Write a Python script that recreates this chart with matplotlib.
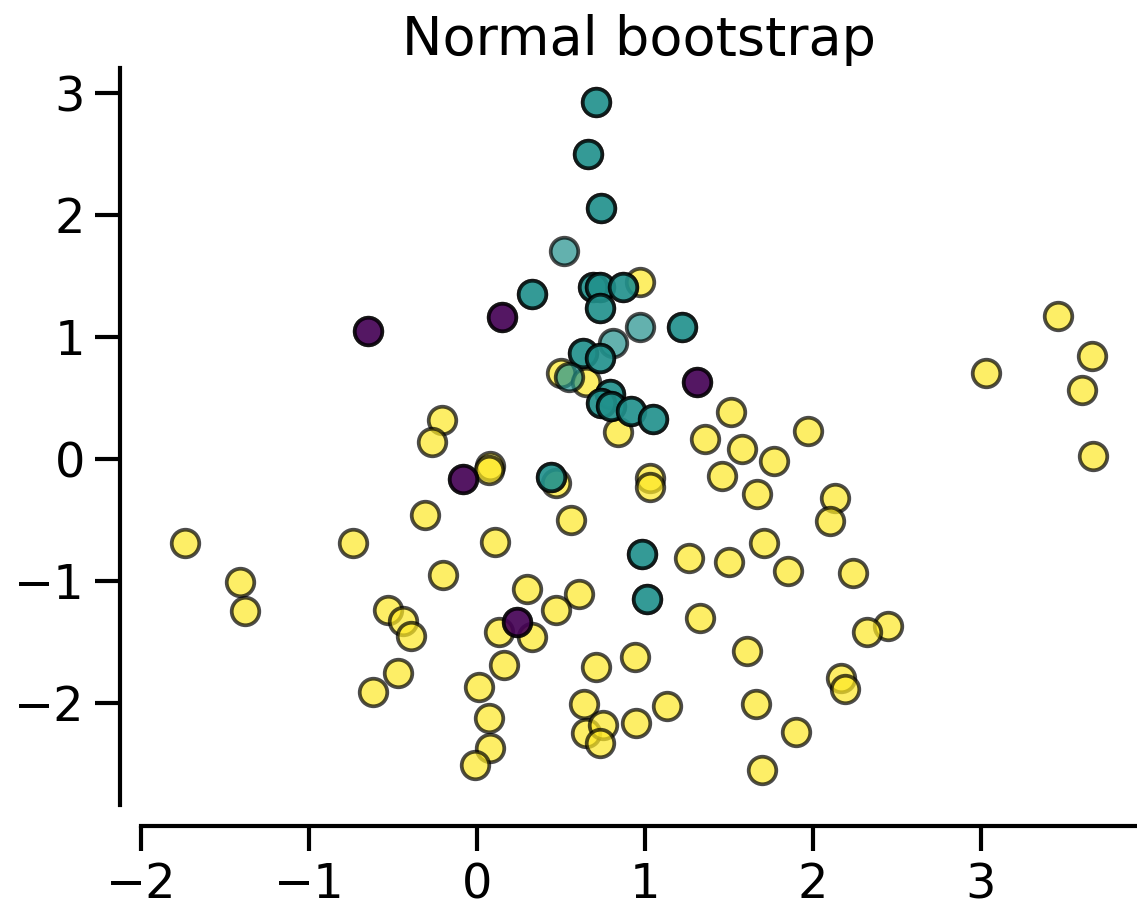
import numpy as np
import matplotlib
matplotlib.use("Agg")
import matplotlib.pyplot as plt

# class 0 (purple) points
purple_x = [-0.65, -0.65, 0.15, 0.15, 1.31, 1.31, -0.08, -0.08, 0.24, 0.24]
purple_y = [1.05, 1.05, 1.16, 1.16, 0.63, 0.63, -0.17, -0.17, -1.34, -1.34]

# class 1 (teal) points (duplicates = bootstrap repeats)
teal_x = [0.71, 0.71, 0.66, 0.66, 0.74, 0.74, 0.52, 0.33, 0.33, 0.69, 0.69,
          0.73, 0.73, 0.87, 0.87, 0.73, 0.73, 0.97, 1.22, 1.22, 0.81,
          0.63, 0.63, 0.73, 0.73, 0.55, 0.79, 0.79, 0.74, 0.74, 0.80, 0.80,
          0.92, 0.92, 1.05, 1.05, 0.44, 0.44, 0.98, 0.98, 1.01, 1.01]
teal_y = [2.93, 2.93, 2.50, 2.50, 2.06, 2.06, 1.70, 1.35, 1.35, 1.41, 1.41,
          1.41, 1.41, 1.41, 1.41, 1.24, 1.24, 1.08, 1.08, 1.08, 0.95,
          0.87, 0.87, 0.83, 0.83, 0.67, 0.53, 0.53, 0.46, 0.46, 0.43, 0.43,
          0.39, 0.39, 0.33, 0.33, -0.15, -0.15, -0.78, -0.78, -1.15, -1.15]

# class 2 (yellow) points
yellow_x = [0.97, 0.50, 0.65, 0.84, -0.21, -0.27, 0.08, 0.07, 0.47, -0.31,
            0.56, -1.74, -0.74, 0.11, -0.20, -1.41, -1.38, 0.30, 0.61, -0.53,
            -0.44, -0.39, 0.47, 0.13, 0.33, 0.16, 0.71, 0.94, -0.47, -0.62,
            0.01, 0.64, 0.07, 0.65, 0.75, 0.73, 0.95, 0.08, -0.01, 1.51,
            1.97, 1.36, 1.58, 1.77, 1.46, 1.03, 1.03, 1.67, 2.13, 2.10,
            1.71, 1.26, 1.50, 1.85, 2.24, 1.33, 2.45, 2.32, 1.61, 2.17,
            2.19, 1.66, 1.13, 1.90, 1.70, 3.46, 3.66, 3.03, 3.60, 3.67]
yellow_y = [1.45, 0.70, 0.63, 0.22, 0.32, 0.14, -0.06, -0.09, -0.20, -0.46,
            -0.50, -0.69, -0.69, -0.68, -0.95, -1.01, -1.25, -1.07, -1.11, -1.24,
            -1.33, -1.45, -1.24, -1.42, -1.46, -1.69, -1.71, -1.63, -1.76, -1.91,
            -1.87, -2.01, -2.13, -2.25, -2.18, -2.33, -2.17, -2.37, -2.51, 0.38,
            0.23, 0.16, 0.08, -0.02, -0.14, -0.16, -0.23, -0.29, -0.32, -0.51,
            -0.69, -0.81, -0.85, -0.92, -0.94, -1.31, -1.37, -1.42, -1.58, -1.80,
            -1.89, -2.01, -2.03, -2.24, -2.55, 1.17, 0.84, 0.70, 0.56, 0.02]

xticks = [-2, -1, 0, 1, 2, 3]
yticks = [-2, -1, 0, 1, 2, 3]
title = "Normal bootstrap"

cmap = plt.get_cmap("viridis")
c_purple, c_teal, c_yellow = cmap(0.0), cmap(0.5), cmap(1.0)

W, H, DPI = 1137, 906, 150
fig = plt.figure(figsize=(W / DPI, H / DPI), dpi=DPI)
ax = fig.add_axes([141 / W, 1 - 805 / H, (1137 - 141) / W, (805 - 68) / H])

kw = dict(s=175, edgecolors="black", linewidths=1.8, alpha=0.7, zorder=3)
ax.scatter(yellow_x, yellow_y, color=c_yellow, **kw)
ax.scatter(teal_x, teal_y, color=c_teal, **kw)
ax.scatter(purple_x, purple_y, color=c_purple, **kw)

ax.set_xlim(-2.0, 3.93)
ax.set_ylim(-2.84, 3.205)
ax.set_xticks(xticks)
ax.set_yticks(yticks)
ax.set_xticklabels([str(t).replace("-", "\u2212") for t in xticks])
ax.set_yticklabels([str(t).replace("-", "\u2212") for t in yticks])

for side in ["top", "right"]:
    ax.spines[side].set_visible(False)
for side in ["left", "bottom"]:
    ax.spines[side].set_position(("outward", 10))
    ax.spines[side].set_linewidth(2.0)

ax.tick_params(axis="both", which="major", length=12, width=2.0,
               labelsize=23, pad=5, color="black")
ax.set_title(title, fontsize=26, pad=6)

fig.savefig("out.png", dpi=DPI)
